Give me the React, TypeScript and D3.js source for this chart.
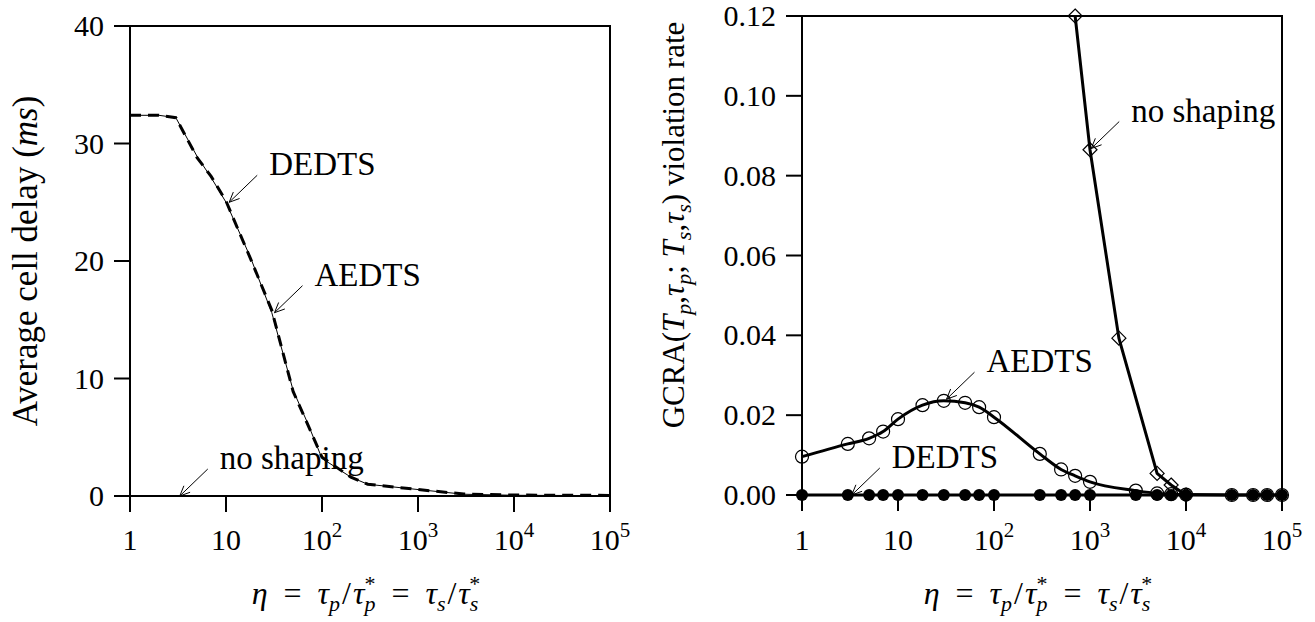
import React from "react";
import * as d3 from "d3";

// left panel: average cell delay (ms) vs eta
const delayEta = [1, 2, 3, 5, 7, 10, 18, 30, 50, 70, 100, 200, 300, 1000, 3000, 10000, 100000];
const delayDEDTS = [32.4, 32.4, 32.2, 28.8, 27.2, 25.1, 20.2, 15.8, 8.9, 6.2, 3.3, 1.6, 1.0, 0.55, 0.17, 0.08, 0.05];
const delayAEDTS = [32.4, 32.4, 32.2, 28.9, 27.1, 25.0, 20.3, 15.6, 9.0, 6.3, 3.2, 1.6, 1.0, 0.55, 0.15, 0.06, 0.03];
const delayNoShaping = [0, 0, 0, 0, 0, 0, 0, 0, 0, 0, 0, 0, 0, 0, 0, 0, 0];

// right panel: GCRA violation rate vs eta
const violEta = [1, 3, 5, 7, 10, 18, 30, 50, 70, 100, 300, 500, 700, 1000, 3000, 5000, 7000, 10000, 30000, 50000, 70000, 100000];
const violAEDTS = [0.0096, 0.0128, 0.0142, 0.0159, 0.019, 0.0225, 0.0236, 0.0231, 0.022, 0.0195, 0.0103, 0.0064, 0.0048, 0.0033, 0.0011, 0.0004, 0.0002, 0.0001, 0, 0, 0, 0];
const violDEDTS = [0, 0, 0, 0, 0, 0, 0, 0, 0, 0, 0, 0, 0, 0, 0, 0, 0, 0, 0, 0, 0, 0];
const noShapeEta = [700, 1000, 2000, 5000, 7000, 10000];
const violNoShaping = [0.12, 0.0865, 0.0393, 0.0054, 0.0025, 0];

const xTicks = [1, 10, 100, 1000, 10000, 100000];
const xTickPow = ["1", "10", "2", "3", "4", "5"];
const delayTicks = [0, 10, 20, 30, 40];
const violTicks = [0, 0.02, 0.04, 0.06, 0.08, 0.1, 0.12];

const FONT = "'Liberation Serif', serif";
const TICK_FS = 30;
const NOTE_FS = 33;

const Arrow = ({ x1, y1, x2, y2 }) => {
  const a = Math.atan2(y2 - y1, x2 - x1);
  const h = 11;
  const w = 0.42;
  const p1 = [x2 - h * Math.cos(a - w), y2 - h * Math.sin(a - w)];
  const p2 = [x2 - h * Math.cos(a + w), y2 - h * Math.sin(a + w)];
  return (
    <g stroke="#000" strokeWidth={1} fill="none">
      <line x1={x1} y1={y1} x2={x2} y2={y2} />
      <path d={`M${p1[0]},${p1[1]}L${x2},${y2}L${p2[0]},${p2[1]}`} />
    </g>
  );
};

// arrow from tip (data) back up-right to the label
const Note = ({ tx, ty, label }) => (
  <g>
    <Arrow x1={tx + 28} y1={ty - 27} x2={tx} y2={ty} />
    <text x={tx + 40} y={ty - 27} fontSize={NOTE_FS} fontFamily={FONT}>{label}</text>
  </g>
);

const XTickLabels = ({ x, y }) => (
  <g fontSize={TICK_FS} fontFamily={FONT} textAnchor="middle">
    {xTicks.map((t, i) => (
      <text key={t} x={x(t)} y={y}>
        {i < 2 ? xTickPow[i] : "10"}
        {i >= 2 && <tspan dy={-13} fontSize={21}>{xTickPow[i]}</tspan>}
      </text>
    ))}
  </g>
);

const EtaLabel = ({ x, y }) => {
  const fs = 32, sub = 22;
  return (
    <text x={x} y={y} fontSize={fs} fontFamily={FONT} textAnchor="middle" style={{ whiteSpace: "pre" }}>
      <tspan fontStyle="italic">η</tspan>
      <tspan>{"\u2002=\u2002"}</tspan>
      <tspan fontStyle="italic">τ</tspan>
      <tspan fontStyle="italic" fontSize={sub} dy={7}>p</tspan>
      <tspan dx={2} dy={-7}>/</tspan>
      <tspan fontStyle="italic" dx={2}>τ</tspan>
      <tspan fontStyle="italic" fontSize={sub} dy={7}>p</tspan>
      <tspan fontSize={sub} dx={-11} dy={-20}>*</tspan>
      <tspan dy={13}>{"\u2002=\u2002"}</tspan>
      <tspan fontStyle="italic">τ</tspan>
      <tspan fontStyle="italic" fontSize={sub} dy={7}>s</tspan>
      <tspan dx={2} dy={-7}>/</tspan>
      <tspan fontStyle="italic" dx={2}>τ</tspan>
      <tspan fontStyle="italic" fontSize={sub} dy={7}>s</tspan>
      <tspan fontSize={sub} dx={-9} dy={-20}>*</tspan>
    </text>
  );
};

const Frame = ({ x0, x1, y0, y1, x, y, yTicks, fmt }) => (
  <g stroke="#000" strokeWidth={2} fill="none">
    <rect x={x0} y={y1} width={x1 - x0} height={y0 - y1} />
    {xTicks.map((t) => (
      <line key={t} x1={x(t)} x2={x(t)} y1={y0} y2={y0 + 16} />
    ))}
    {yTicks.map((t) => (
      <line key={t} x1={x0 - 16} x2={x0} y1={y(t)} y2={y(t)} />
    ))}
    <g stroke="none" fill="#000" fontSize={TICK_FS} fontFamily={FONT} textAnchor="end">
      {yTicks.map((t) => (
        <text key={t} x={x0 - 26} y={y(t) + 10}>{fmt(t)}</text>
      ))}
    </g>
  </g>
);

const App = () => {
  // left
  const L = { x0: 130, x1: 610, y0: 496, y1: 26 };
  const xl = d3.scaleLog().domain([1, 1e5]).range([L.x0, L.x1]);
  const yl = d3.scaleLinear().domain([0, 40]).range([L.y0, L.y1]);
  const lineL = (vals) =>
    d3.line<number>().x((_, i) => xl(delayEta[i])).y((v) => yl(v))(vals);

  // right
  const R = { x0: 802, x1: 1282, y0: 495, y1: 16 };
  const xr = d3.scaleLog().domain([1, 1e5]).range([R.x0, R.x1]);
  const yr = d3.scaleLinear().domain([0, 0.12]).range([R.y0, R.y1]);
  const lineAE = d3.line<number>().x((_, i) => xr(violEta[i])).y((v) => yr(v)).curve(d3.curveMonotoneX)(violAEDTS);
  const lineDE = d3.line<number>().x((_, i) => xr(violEta[i])).y((v) => yr(v))(violDEDTS);
  const lineNS = d3.line<number>().x((_, i) => xr(noShapeEta[i])).y((v) => yr(v))(violNoShaping);

  const sub = 22;

  return (
    <svg width={1315} height={622} style={{ position: "absolute", left: 0, top: 0, background: "#fff" }}>
      {/* ---------- left panel ---------- */}
      <Frame {...L} x={xl} y={yl} yTicks={delayTicks} fmt={(t) => String(t)} />
      <path d={lineL(delayNoShaping)} fill="none" stroke="#000" strokeWidth={1} />
      <path d={lineL(delayAEDTS)} fill="none" stroke="#000" strokeWidth={1} />
      <path d={lineL(delayDEDTS)} fill="none" stroke="#000" strokeWidth={3} strokeDasharray="11 7" />
      <Note tx={xl(10.8)} ty={yl(25)} label="DEDTS" />
      <Note tx={xl(32)} ty={yl(15.6)} label="AEDTS" />
      <Note tx={xl(3.3)} ty={yl(0)} label="no shaping" />
      <XTickLabels x={xl} y={550} />
      <EtaLabel x={366} y={604} />
      <text transform={`translate(37,261) rotate(-90)`} textAnchor="middle" fontSize={35} fontFamily={FONT}>
        Average cell delay (<tspan fontStyle="italic">ms</tspan>)
      </text>

      {/* ---------- right panel ---------- */}
      <Frame {...R} x={xr} y={yr} yTicks={violTicks} fmt={d3.format(".2f")} />
      <path d={lineAE} fill="none" stroke="#000" strokeWidth={3} />
      {violEta.map((e, i) => (
        <circle key={"c" + e} cx={xr(e)} cy={yr(violAEDTS[i])} r={6.5} fill="none" stroke="#000" strokeWidth={1.2} />
      ))}
      <path d={lineNS} fill="none" stroke="#000" strokeWidth={3} />
      {noShapeEta.map((e, i) => {
        const cx = xr(e), cy = yr(violNoShaping[i]), s = 7;
        return (
          <path key={"d" + e} d={`M${cx},${cy - s}L${cx + s},${cy}L${cx},${cy + s}L${cx - s},${cy}Z`}
            fill="none" stroke="#000" strokeWidth={1.2} />
        );
      })}
      <path d={lineDE} fill="none" stroke="#000" strokeWidth={3} />
      {violEta.map((e, i) => (
        <circle key={"f" + e} cx={xr(e)} cy={yr(violDEDTS[i])} r={6} fill="#000" />
      ))}
      <Note tx={xr(1030)} ty={yr(0.0868)} label="no shaping" />
      <Note tx={xr(32)} ty={yr(0.024)} label="AEDTS" />
      <Note tx={xr(3.3)} ty={yr(0)} label="DEDTS" />
      <XTickLabels x={xr} y={550} />
      <EtaLabel x={1038} y={604} />
      <text transform={`translate(684,225) rotate(-90)`} textAnchor="middle" fontSize={31} fontFamily={FONT}
        style={{ whiteSpace: "pre" }}>
        GCRA(<tspan fontStyle="italic">T</tspan>
        <tspan fontStyle="italic" fontSize={sub} dy={7}>p</tspan>
        <tspan dy={-7}>,</tspan>
        <tspan fontStyle="italic">τ</tspan>
        <tspan fontStyle="italic" fontSize={sub} dy={7}>p</tspan>
        <tspan dy={-7}>{"; "}</tspan>
        <tspan fontStyle="italic">T</tspan>
        <tspan fontStyle="italic" fontSize={sub} dy={7}>s</tspan>
        <tspan dy={-7}>,</tspan>
        <tspan fontStyle="italic">τ</tspan>
        <tspan fontStyle="italic" fontSize={sub} dy={7}>s</tspan>
        <tspan dy={-7}>{") violation rate"}</tspan>
      </text>
    </svg>
  );
};

export default App;
